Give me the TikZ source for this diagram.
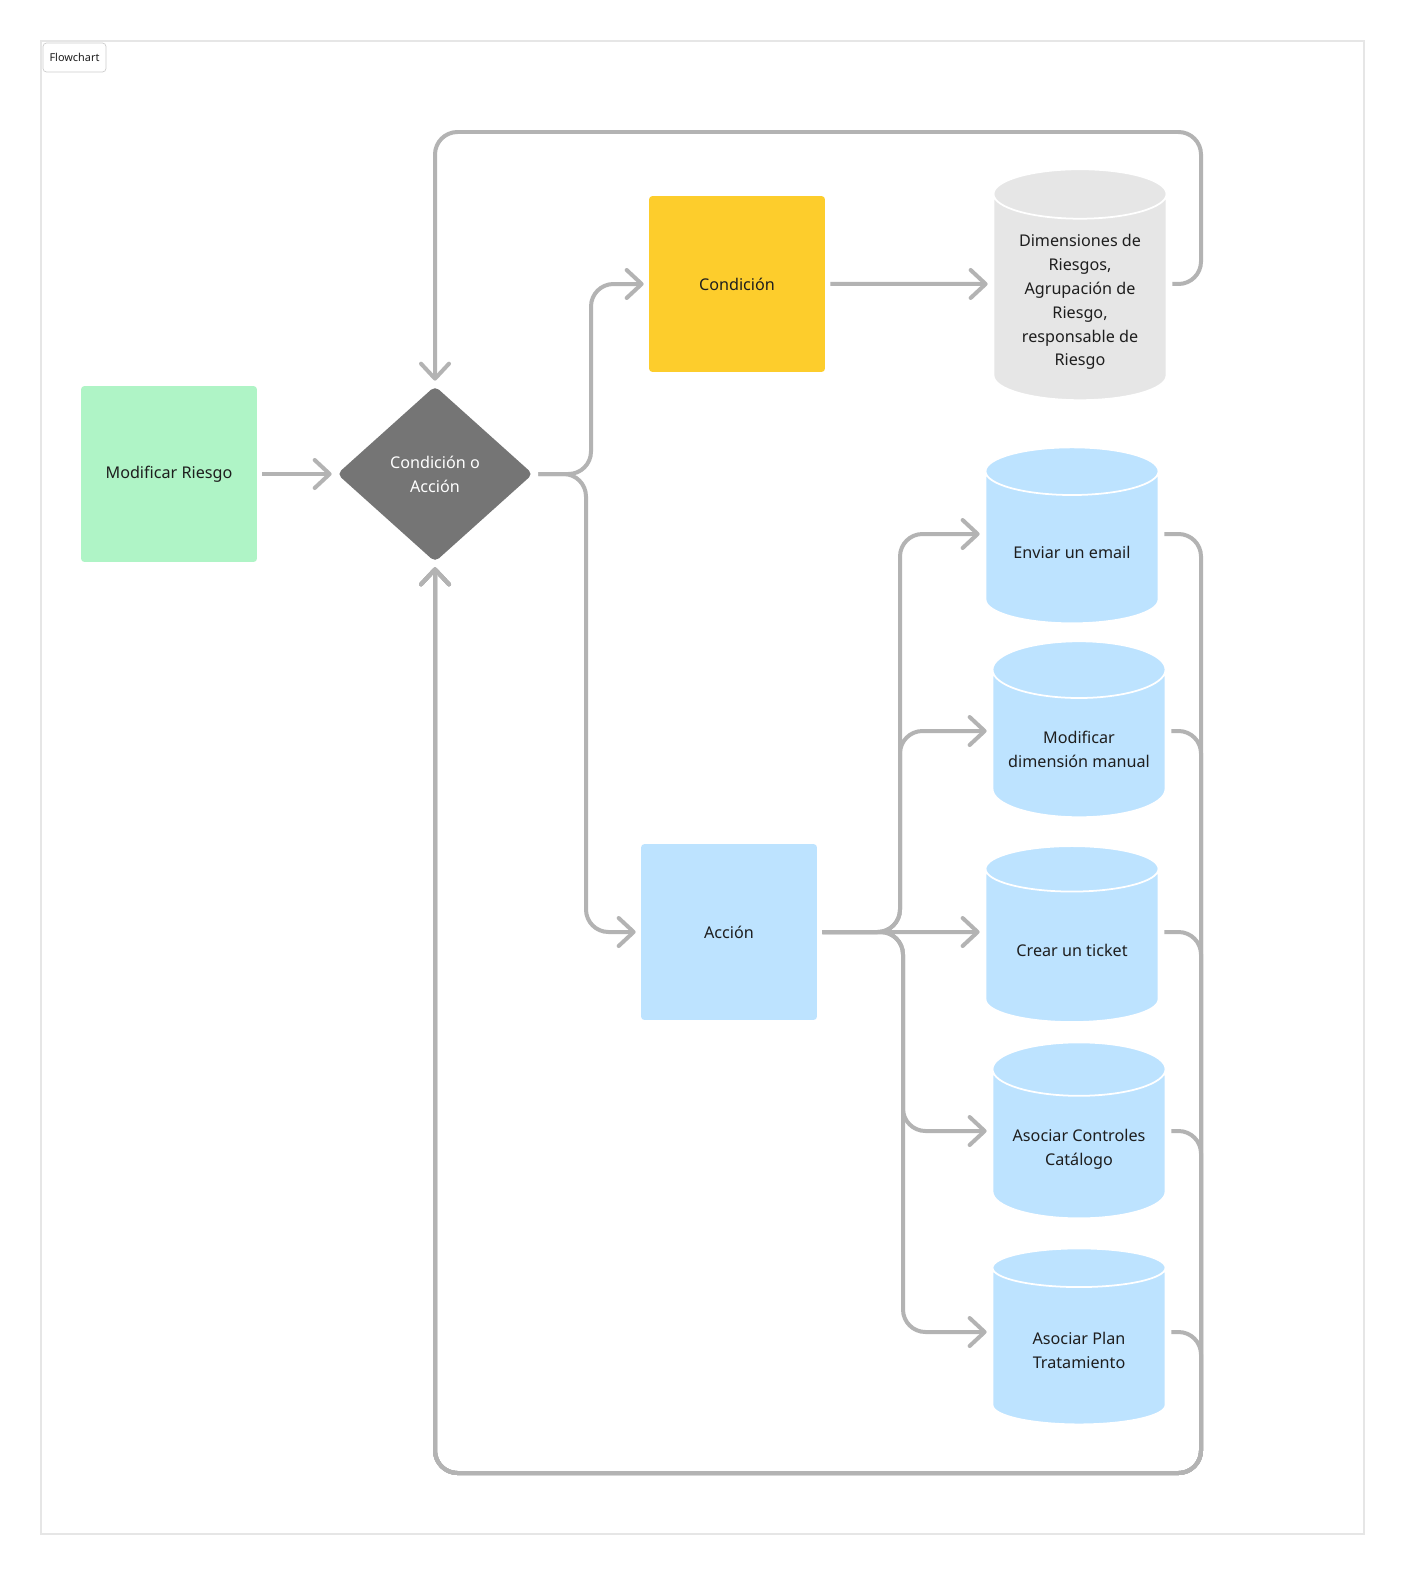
\documentclass[tikz,border=0pt]{standalone}
\usepackage{fontspec}
\setmainfont{Noto Sans}
\usetikzlibrary{arrows.meta, shapes.geometric}

\definecolor{mintbox}{HTML}{AFF4C6}
\definecolor{yellowbox}{HTML}{FDCD2C}
\definecolor{bluebox}{HTML}{BDE3FF}
\definecolor{greydb}{HTML}{E6E6E6}
\definecolor{decgrey}{HTML}{757575}
\definecolor{wire}{HTML}{B3B3B3}
\definecolor{ink}{HTML}{1E1E1E}

\begin{document}
\begin{tikzpicture}[x=0.02cm, y=-0.02cm,
  every node/.style={font=\fontsize{9.2}{13.6}\selectfont, text=ink, align=center},
  card/.style={rectangle, rounded corners=2pt, minimum width=3.52cm, minimum height=3.52cm},
  store/.style={cylinder, shape border rotate=90, aspect=0.37, draw=white, line width=1pt,
    fill=bluebox, minimum width=3.46cm, minimum height=3.52cm},
  wireline/.style={draw=wire, line width=0.08cm, rounded corners=0.45cm,
    shorten >=0.1cm, shorten <=0.1cm},
  tip/.style={-{Straight Barb[length=0.3cm, width=0.56cm, round]}}]
  \useasboundingbox[fill=white] (0,0) rectangle (1405,1575);
  \draw[greydb, line width=0.6pt] (41,41) rectangle (1364,1534);

  % Nodes
  \node (tag) at (74.5,57.5) [draw=black!20, fill=white, rounded corners=2pt, minimum width=1.26cm,
    minimum height=0.58cm, inner sep=0pt, font=\fontsize{6.2}{7}\selectfont] {Flowchart};
  \node[card, fill=mintbox] (mod) at (169,474) {Modificar Riesgo};
  \node[diamond, fill=decgrey, rounded corners=3pt, minimum width=3.92cm, minimum height=3.52cm,
    text=white] (dec) at (435,474) {Condición o\\Acción};
  \node[card, fill=yellowbox] (cond) at (737,284) {Condición};
  \node[card, fill=bluebox] (acc) at (729,932) {Acción};
  \node[store, fill=greydb, minimum height=4.62cm] (dim) at (1080,302)
    {Dimensiones de\\Riesgos,\\Agrupación de\\Riesgo,\\responsable de\\Riesgo};
  \node[store] (env) at (1072,552) {Enviar un email};
  \node[store] (mdm) at (1079,749) {Modificar\\dimensión manual};
  \node[store] (tkt) at (1072,950) {Crear un ticket};
  \node[store] (ctl) at (1079,1149) {Asociar Controles\\Catálogo};
  \node[store] (pln) at (1079,1350) {Asociar Plan\\Tratamiento};

  % Edges
  \draw[wireline, tip] (mod) -- (dec);
  \draw[wireline, tip] (dec.east) -- (591,474) |- (cond.west);
  \draw[wireline, tip] (dec.east) -- (586,474) |- (acc.west);
  \draw[wireline, tip] (cond) -- ([yshift=0.36cm]dim.west);
  \draw[wireline, tip] ([yshift=0.36cm]dim.east) -| (1201,132) -| (dec.north);
  \foreach \s in {env, mdm}
    \draw[wireline, tip] (acc.east) -- (900,932) |- ([yshift=0.36cm]\s.west);
  \draw[wireline, tip] (acc.east) -- ([yshift=0.36cm]tkt.west);
  \foreach \s in {ctl, pln}
    \draw[wireline, tip] (acc.east) -- (903,932) |- ([yshift=0.36cm]\s.west);
  \foreach \s in {env, mdm, tkt, ctl, pln}
    \draw[wireline, tip] ([yshift=0.36cm]\s.east) -| (1201,1473) -| (dec.south);
\end{tikzpicture}
\end{document}
